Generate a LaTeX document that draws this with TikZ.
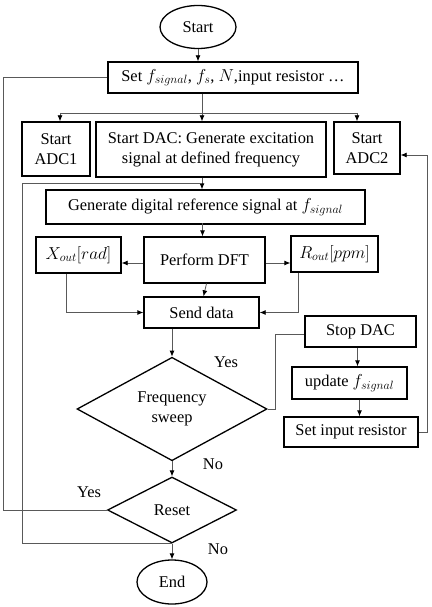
\documentclass[tikz,border=0pt]{standalone}
\usepackage{fontspec}
\setmainfont{Liberation Serif}
\usetikzlibrary{shapes.geometric,arrows.meta}
\begin{document}
\begin{tikzpicture}[x=1pt,y=-1pt,
  every node/.style={font=\fontsize{16.4}{20}\selectfont},
  box/.style={draw=black,line width=1.3pt,rectangle,inner sep=0pt,align=center},
  term/.style={draw=black,line width=1.3pt,ellipse,inner sep=0pt},
  dec/.style={draw=black,line width=1.3pt,diamond,inner sep=0pt,align=center},
  conn/.style={draw=black!65,line width=0.8pt},
  arr/.style={conn,-{Latex[length=6pt,width=5pt,black]}},
  lbl/.style={inner sep=0pt}]
\useasboundingbox (0,0) rectangle (431,607);
\node[term,minimum width=76pt,minimum height=43pt] (start) at (198,27) {Start};
\node[box,minimum width=250pt,minimum height=31pt] (set) at (233,77.5) {Set $f_{signal}$, $f_s$, $N$,input resistor \dots};
\node[box,minimum width=68pt,minimum height=54pt] (adc1) at (56,149) {Start\\ADC1};
\node[box,minimum width=230pt,minimum height=55pt] (dac) at (211,149.5) {Start DAC: Generate excitation\\signal at defined frequency};
\node[box,minimum width=66pt,minimum height=52pt] (adc2) at (367,148) {Start\\ADC2};
\node[box,minimum width=319pt,minimum height=34pt] (gen) at (205.5,207) {Generate digital reference signal at $f_{signal}$};
\node[box,minimum width=121pt,minimum height=46pt] (dft) at (204.5,260) {Perform DFT};
\node[box,minimum width=85pt,minimum height=36pt] (xout) at (78.5,255) {$X_{out}[rad]$};
\node[box,minimum width=87pt,minimum height=36pt] (rout) at (334.5,254) {$R_{out}[ppm]$};
\node[box,minimum width=115pt,minimum height=31pt] (send) at (201.5,312.5) {Send data};
\node[box,minimum width=111pt,minimum height=31pt] (stop) at (360.5,331.5) {Stop DAC};
\node[box,minimum width=115pt,minimum height=32pt] (upd) at (349.5,383) {update $f_{signal}$};
\node[box,minimum width=134pt,minimum height=30pt] (setr) at (351,432) {Set input resistor};
\node[dec,minimum width=190pt,minimum height=98pt] (freq) at (172,409) {Frequency\\sweep};
\node[dec,minimum width=129pt,minimum height=66pt] (reset) at (172,510) {Reset};
\node[term,minimum width=70pt,minimum height=44pt] (end) at (172,582) {End};
\node[lbl] (yes1) at (226,362) {Yes};
\node[lbl] (no1) at (213,464) {No};
\node[lbl] (yes2) at (89,492) {Yes};
\node[lbl] (no2) at (218,549) {No};
% coordinates
\coordinate (split) at (202,113);
\coordinate (lA) at (60,113);
\coordinate (rA) at (357,113);
\coordinate (dg) at (202,183);
\coordinate (loopL) at (3,0);
\coordinate (loopL2) at (22,0);
\coordinate (loopR) at (427,0);
\coordinate (adc2in) at (0,155);
% connectors
\draw[arr] (start.south) -- (set.north -| start.south);
\draw[conn] (set.south -| split) -- (split);
\draw[conn] (lA) -- (rA);
\draw[arr] (split) -- (dac.north -| split);
\draw[arr] (lA) -- (adc1.north -| lA);
\draw[arr] (rA) -- (adc2.north -| rA);
\draw[arr] (dac.south -| dg) -- (gen.north -| dg);
\draw[arr] ([xshift=-2pt]dft.north) ++(0,-13) -- ([xshift=-2pt]dft.north);
\draw[arr] ([yshift=-3pt]dft.west) -- ([yshift=-3pt]dft.west -| xout.east);
\draw[arr] ([yshift=-3pt]dft.east) -- ([yshift=-3pt]dft.east -| rout.west);
\draw[arr] ([xshift=2pt]dft.south) -- ([xshift=2pt]send.north);
\draw[arr] ([xshift=-12pt]xout.south) |- (send.west);
\draw[arr] ([xshift=-36pt]rout.south) |- (send.east);
\draw[arr] (send.south -| freq.north) -- (freq.north);
\draw[conn] (freq.east) -- ++(8,0) |- ([yshift=-2.5pt]stop.west);
\draw[arr] ([xshift=-3pt]stop.south) -- ([xshift=-3pt]stop.south |- upd.north);
\draw[arr] ([xshift=10pt]upd.south) -- ([xshift=10pt]upd.south |- setr.north);
\draw[arr] (setr.east) -- (setr.east -| loopR) |- (adc2in -| adc2.east);
\draw[arr] (freq.south) -- (reset.north);
\draw[conn] (reset.west) -- (reset.west -| loopL) |- (set.west);
\draw[conn] (reset.south) -- (reset.south -| loopL2) |- (dg);
\draw[arr] (reset.south) -- (end.north);
\end{tikzpicture}
\end{document}
